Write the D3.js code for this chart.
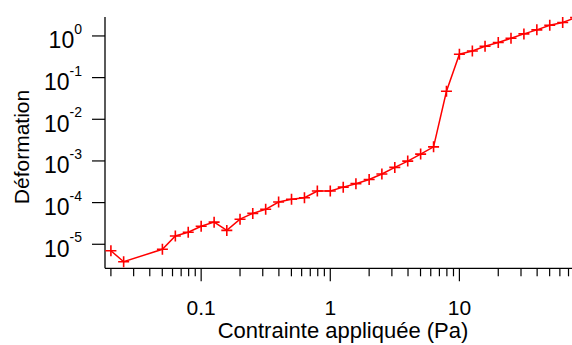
<!DOCTYPE html>
<html><head><meta charset="utf-8">
<script src="https://cdn.jsdelivr.net/npm/d3@7/dist/d3.min.js"></script>
<style>body{margin:0;background:#fff}svg{display:block}</style>
</head><body>
<script>
const stress = [0.02, 0.0251, 0.0501, 0.0631, 0.0794, 0.1, 0.126, 0.158, 0.2, 0.251, 0.316, 0.398, 0.501, 0.631, 0.794,
  1, 1.26, 1.58, 2.0, 2.51, 3.16, 3.98, 5.01, 6.31, 7.94, 10, 12.6, 15.8, 20, 25.1, 31.6, 39.8, 50.1, 63.1, 79.4];
const strain = [7.0e-6, 3.8e-6, 7.6e-6, 1.58e-5, 1.94e-5, 2.7e-5, 3.4e-5, 2.15e-5, 4.0e-5, 5.5e-5, 6.9e-5, 1.03e-4, 1.2e-4, 1.31e-4, 1.9e-4,
  1.9e-4, 2.35e-4, 2.85e-4, 3.6e-4, 4.85e-4, 7.0e-4, 9.9e-4, 1.46e-3, 2.18e-3, 0.047, 0.364, 0.437, 0.567, 0.695, 0.88, 1.12, 1.40, 1.80, 2.11, 2.76];
const xTickValues = [0.1, 1, 10];
const xTickLabels = ["0.1", "1", "10"];
const yExponents = [0, -1, -2, -3, -4, -5];
const xTitle = "Contrainte appliquée (Pa)";
const yTitle = "Déformation";

const W = 572, H = 345;
const font = "'Liberation Sans', Arial, sans-serif";
const svg = d3.select("body").append("svg").attr("width", W).attr("height", H);

const x = d3.scaleLog().domain([0.018, 80]).range([105, 576]);
const y = d3.scaleLog().domain([2.65e-6, 2.85]).range([268.3, 17]);
const x0 = 105, yB = 268.3;

// minor x ticks
const minor = [];
for (let e = -2; e <= 1; e++) for (let m = 2; m <= 9; m++) {
  const v = m * Math.pow(10, e);
  if (v >= 0.02 && v <= 75) minor.push(v);
}
const gx = svg.append("g");
gx.append("line").attr("x1", x0).attr("x2", W).attr("y1", yB).attr("y2", yB)
  .attr("stroke", "#000").attr("stroke-width", 1.3);
gx.selectAll("line.mi").data(minor).join("line").attr("class", "mi")
  .attr("x1", d => x(d)).attr("x2", d => x(d)).attr("y1", yB).attr("y2", yB + 8)
  .attr("stroke", "#000").attr("stroke-width", 1.2);
gx.selectAll("line.ma").data(xTickValues).join("line").attr("class", "ma")
  .attr("x1", d => x(d)).attr("x2", d => x(d)).attr("y1", yB).attr("y2", yB + 13)
  .attr("stroke", "#000").attr("stroke-width", 1.2);
gx.selectAll("text").data(xTickValues).join("text")
  .attr("x", d => x(d)).attr("y", 315).attr("text-anchor", "middle")
  .attr("font-family", font).attr("font-size", 21).text((d, i) => xTickLabels[i]);

// y axis
const gy = svg.append("g");
gy.append("line").attr("x1", x0).attr("x2", x0).attr("y1", 17).attr("y2", yB)
  .attr("stroke", "#000").attr("stroke-width", 1.3);
gy.selectAll("line.t").data(yExponents).join("line").attr("class", "t")
  .attr("x1", x0 - 13).attr("x2", x0).attr("y1", d => y(Math.pow(10, d))).attr("y2", d => y(Math.pow(10, d)))
  .attr("stroke", "#000").attr("stroke-width", 1.2);
const yl = gy.selectAll("text").data(yExponents).join("text")
  .attr("x", 82).attr("y", d => y(Math.pow(10, d)) + 12.5).attr("text-anchor", "end")
  .attr("font-family", font).attr("font-size", 23);
yl.append("tspan").text("10");
yl.append("tspan").attr("font-size", 14).attr("dy", -14.5).text(d => String(d));

// titles
svg.append("text").attr("x", 343).attr("y", 338).attr("text-anchor", "middle")
  .attr("font-family", font).attr("font-size", 22).text(xTitle);
svg.append("text").attr("transform", "translate(29,147) rotate(-90)").attr("text-anchor", "middle")
  .attr("font-family", font).attr("font-size", 21).text(yTitle);

// data
const data = stress.map((s, i) => [s, strain[i]]);
svg.append("clipPath").attr("id", "c").append("rect").attr("x", 0).attr("y", 0).attr("width", W).attr("height", H);
const g = svg.append("g").attr("clip-path", "url(#c)");
g.append("path").datum(data).attr("fill", "none").attr("stroke", "#ff0000").attr("stroke-width", 1.5)
  .attr("d", d3.line().x(d => x(d[0])).y(d => y(d[1])));
const s = 5.5;
g.selectAll("path.m").data(data).join("path").attr("class", "m")
  .attr("d", d => { const px = x(d[0]), py = y(d[1]); return `M${px - s},${py}H${px + s}M${px},${py - s}V${py + s}`; })
  .attr("stroke", "#ff0000").attr("stroke-width", 1.6).attr("fill", "none");
</script>
</body></html>
